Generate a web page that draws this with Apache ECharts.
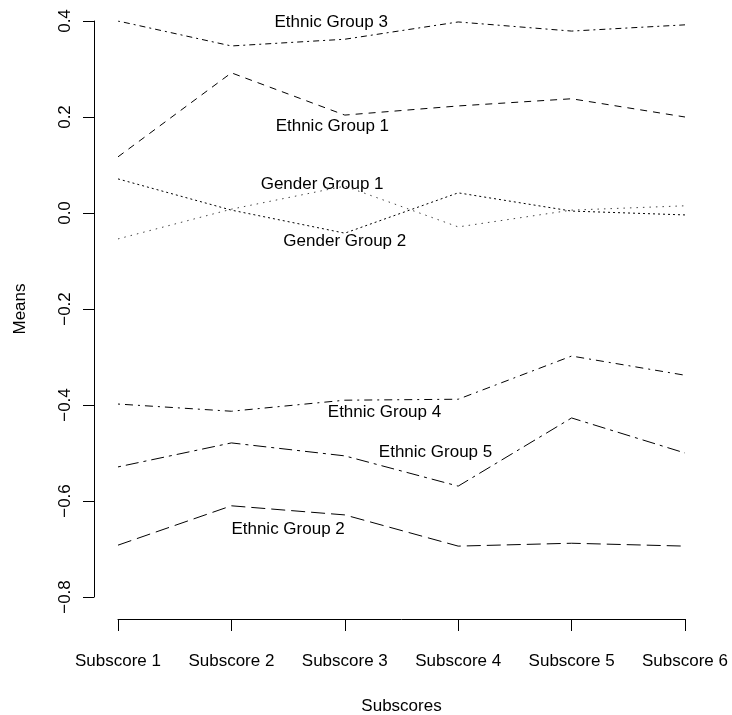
<!DOCTYPE html>
<html>
<head>
<meta charset="utf-8">
<script src="https://cdn.jsdelivr.net/npm/echarts@6/dist/echarts.min.js"></script>
<style>
  html, body { margin: 0; padding: 0; background: #fff; }
  #main { width: 732px; height: 715px; }
</style>
</head>
<body>
<div id="main"></div>
<script>
// x positions 1..6 and their tick labels
var subscores = ["Subscore 1", "Subscore 2", "Subscore 3", "Subscore 4", "Subscore 5", "Subscore 6"];
var positions = [1, 2, 3, 4, 5, 6];

// group means
var ethnic1 = [0.117, 0.292, 0.204, 0.223, 0.238, 0.200];
var ethnic2 = [-0.692, -0.610, -0.629, -0.694, -0.688, -0.694];
var ethnic3 = [0.400, 0.348, 0.362, 0.398, 0.379, 0.392];
var ethnic4 = [-0.398, -0.413, -0.390, -0.388, -0.298, -0.338];
var ethnic5 = [-0.529, -0.479, -0.506, -0.569, -0.427, -0.500];
var gender1 = [-0.054, 0.008, 0.056, -0.029, 0.006, 0.015];
var gender2 = [0.071, 0.006, -0.042, 0.042, 0.004, -0.004];

// text labels placed in data coordinates
var labelNames = ["Ethnic Group 3", "Ethnic Group 1", "Gender Group 1", "Gender Group 2",
                  "Ethnic Group 4", "Ethnic Group 5", "Ethnic Group 2"];
var labelX = [2.88, 2.89, 2.80, 3.00, 3.35, 3.80, 2.50];
var labelY = [0.398, 0.181, 0.060, -0.058, -0.415, -0.498, -0.658];

var font = "Liberation Sans, Arial, Helvetica, sans-serif";

function pairs(vals) {
  return positions.map(function (p, i) { return [p, vals[i]]; });
}

function lineSeries(name, vals, dash, color) {
  return {
    name: name,
    type: "line",
    data: pairs(vals),
    symbol: "none",
    silent: true,
    lineStyle: { color: color || "#000", width: 1, type: dash }
  };
}

var chart = echarts.init(document.getElementById("main"));

var option = {
  backgroundColor: "#fff",
  animation: false,
  textStyle: { fontFamily: font },
  grid: { left: 118, right: 47, top: 21, bottom: 118, containLabel: false, outerBoundsMode: "none" },
  xAxis: {
    type: "value",
    min: 1,
    max: 6,
    interval: 1,
    offset: 22,
    name: "Subscores",
    nameLocation: "middle",
    nameGap: 79,
    nameTextStyle: { color: "#000", fontSize: 17, fontFamily: font },
    axisLine: { show: true, onZero: false, lineStyle: { color: "#000", width: 1 } },
    axisTick: { show: true, length: 12, lineStyle: { color: "#000" } },
    axisLabel: {
      color: "#000",
      fontSize: 17,
      fontFamily: font,
      margin: 34,
      formatter: function (v) { return subscores[v - 1]; }
    },
    splitLine: { show: false }
  },
  yAxis: {
    type: "value",
    min: -0.8,
    max: 0.4,
    interval: 0.2,
    offset: 24,
    name: "Means",
    nameLocation: "middle",
    nameGap: 65,
    nameRotate: 90,
    nameTextStyle: { color: "#000", fontSize: 17, fontFamily: font },
    axisLine: { show: true, onZero: false, lineStyle: { color: "#000", width: 1 } },
    axisTick: { show: true, length: 11, lineStyle: { color: "#000" } },
    axisLabel: {
      color: "#000",
      fontSize: 17,
      fontFamily: font,
      rotate: 90,
      margin: 20,
      formatter: function (v) {
        var s = Math.abs(v).toFixed(1);
        return v < -1e-9 ? "\u2212" + s : s;
      }
    },
    splitLine: { show: false }
  },
  series: [
    lineSeries("Ethnic Group 1", ethnic1, [7, 6]),
    lineSeries("Ethnic Group 2", ethnic2, [14, 6]),
    lineSeries("Ethnic Group 3", ethnic3, [2, 4, 6, 4]),
    lineSeries("Ethnic Group 4", ethnic4, [2, 5, 8, 5]),
    lineSeries("Ethnic Group 5", ethnic5, [3, 5, 13, 5]),
    lineSeries("Gender Group 1", gender1, [1.5, 5], "#444"),
    lineSeries("Gender Group 2", gender2, [2, 3]),
    {
      name: "labels",
      type: "scatter",
      symbolSize: 0,
      silent: true,
      itemStyle: { opacity: 1 },
      data: labelNames.map(function (n, i) { return { name: n, value: [labelX[i], labelY[i]] }; }),
      label: {
        show: true,
        position: "inside",
        color: "#000",
        opacity: 1,
        textBorderWidth: 0,
        fontSize: 17,
        fontFamily: font,
        formatter: function (p) { return p.name; }
      }
    }
  ]
};

chart.setOption(option);
</script>
</body>
</html>
